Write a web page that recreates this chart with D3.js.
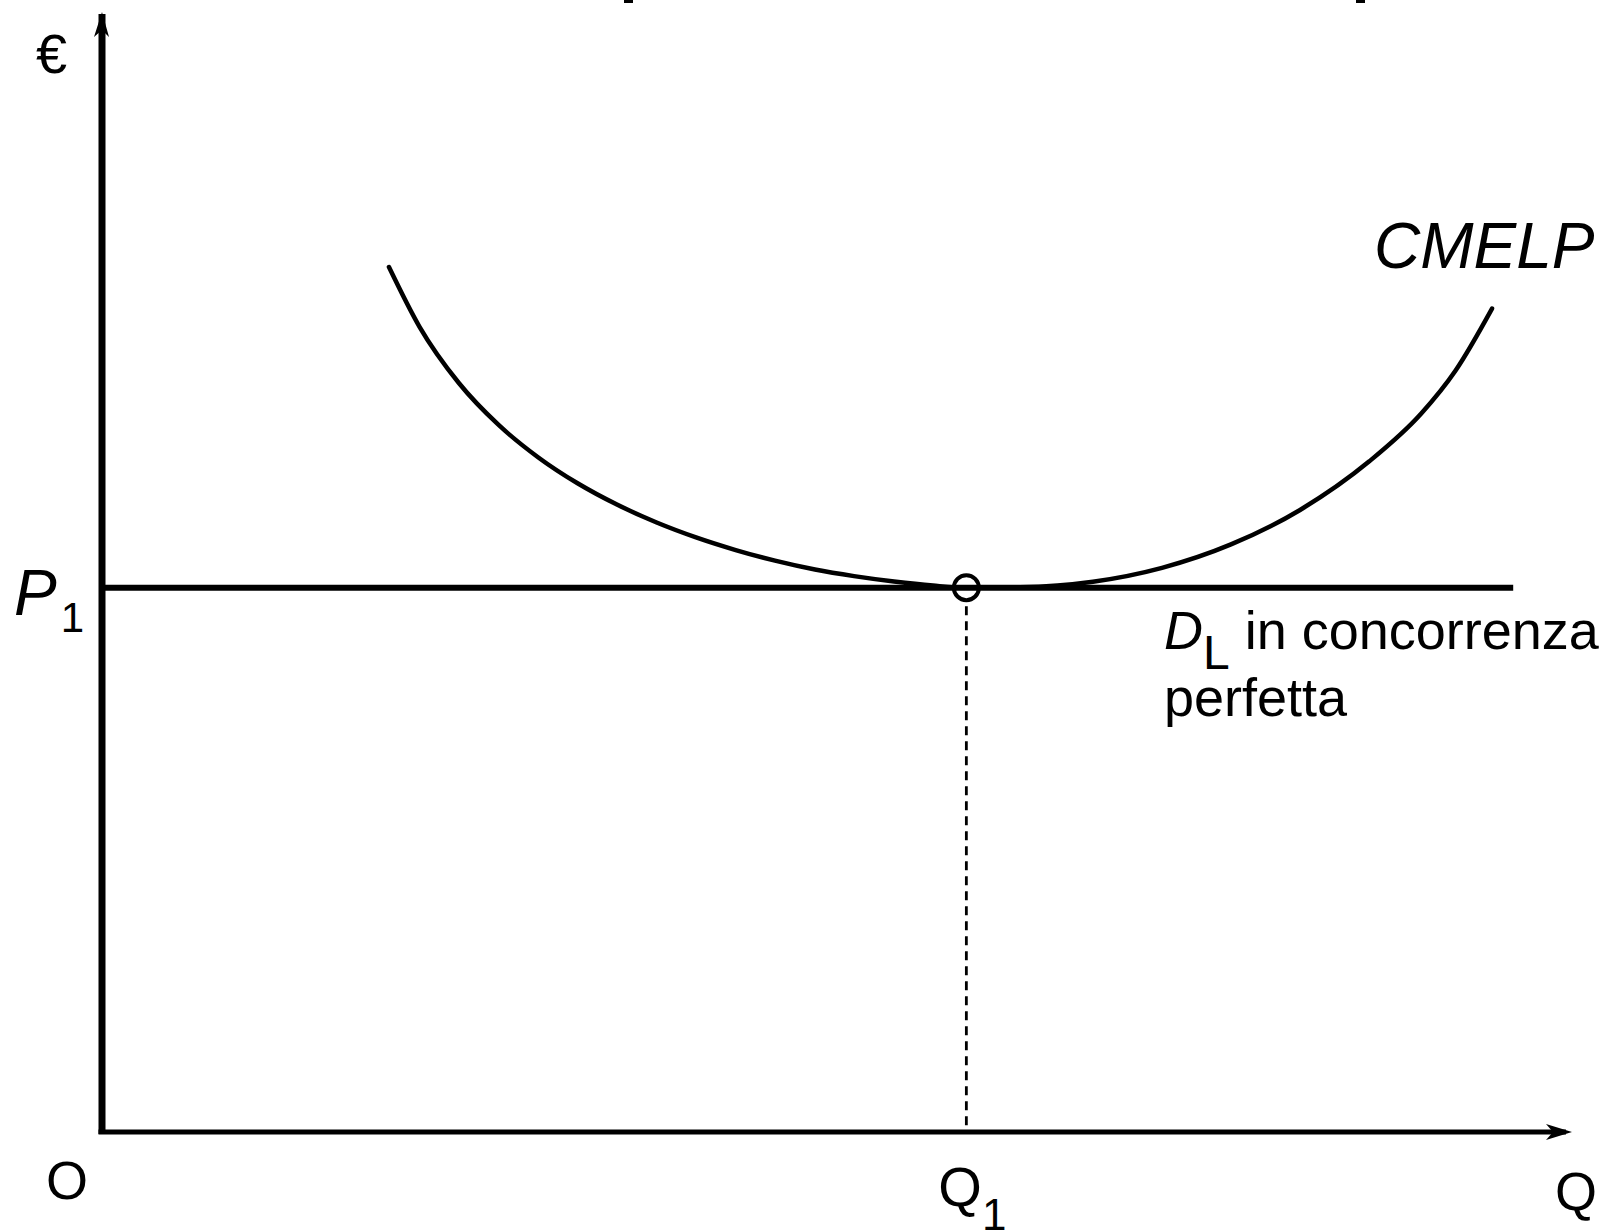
<!DOCTYPE html>
<html>
<head>
<meta charset="utf-8">
<script src="https://cdn.jsdelivr.net/npm/d3@7"></script>
<style>
  html, body { margin: 0; padding: 0; background: #fff; }
  svg { display: block; }
  text { font-family: "Liberation Sans", Arial, sans-serif; fill: #000; }
</style>
</head>
<body>
<svg id="chart"></svg>
<script>
// chart values (quantity and euro in 0..100 units)
var cmelpQ = [19.52, 21.60, 24.29, 26.98, 29.66, 32.35, 35.03, 37.73, 40.41, 43.11, 45.78,
              48.50, 51.16, 53.88, 56.53, 58.80, 62.45, 67.41, 72.11, 76.80, 81.50, 86.19,
              89.73, 92.07, 94.56];
var cmelpCost = [77.23, 71.89, 66.85, 63.13, 60.25, 57.92, 56.02, 54.42, 53.09, 51.96, 51.01,
                 50.22, 49.63, 49.15, 48.79, 48.60, 48.64, 49.13, 50.37, 52.46, 55.54, 59.86,
                 64.13, 67.97, 73.52];
var priceP1 = [48.6];
var quantityQ1 = [58.8];
var demandRange = [0, 96.0];

// svg constants
var width = 1606,
	height = 1231;

var svg = d3.select('#chart')
	.attr('width', width)
	.attr('height', height);

var x = d3.scaleLinear().domain([0, 100]).range([102, 1572]);
var y = d3.scaleLinear().domain([0, 100]).range([1132, 12]);

// bits of a cut-off title at the top edge
svg.append('rect').attr('x', 624).attr('y', 0).attr('width', 9).attr('height', 3).attr('fill', '#000');
svg.append('rect').attr('x', 1356).attr('y', 0).attr('width', 9).attr('height', 3).attr('fill', '#000');

/* --- axes --- */

// vertical axis with arrow
svg.append('line')
	.attr('x1', x(0)).attr('x2', x(0))
	.attr('y1', y(0) + 2).attr('y2', y(100) + 2)
	.attr('stroke', '#000')
	.attr('stroke-width', 7);
svg.append('path')
	.attr('d', 'M' + x(0) + ',' + y(100) +
		' L' + (x(0) + 7) + ',' + (y(100) + 25) +
		' L' + x(0) + ',' + (y(100) + 18) +
		' L' + (x(0) - 8) + ',' + (y(100) + 25) + ' Z')
	.attr('fill', '#000');

// horizontal axis with arrow
svg.append('line')
	.attr('x1', x(0) - 3.5).attr('x2', x(100) - 6)
	.attr('y1', y(0)).attr('y2', y(0))
	.attr('stroke', '#000')
	.attr('stroke-width', 5);
svg.append('path')
	.attr('d', 'M' + x(100) + ',' + y(0) +
		' L' + (x(100) - 26) + ',' + (y(0) - 8) +
		' L' + (x(100) - 19) + ',' + y(0) +
		' L' + (x(100) - 26) + ',' + (y(0) + 8) + ' Z')
	.attr('fill', '#000');

/* --- demand line in perfect competition --- */
svg.selectAll('.demand')
	.data(priceP1)
	.enter().append('line')
		.attr('class', 'demand')
		.attr('x1', x(demandRange[0]))
		.attr('x2', x(demandRange[1]))
		.attr('y1', function(d) { return y(d); })
		.attr('y2', function(d) { return y(d); })
		.attr('stroke', '#000')
		.attr('stroke-width', 6);

/* --- long run average cost curve --- */
var cmelpData = cmelpQ.map(function(q, i) {
	return { q: q, c: cmelpCost[i] };
});

var line = d3.line()
	.x(function(d) { return x(d.q); })
	.y(function(d) { return y(d.c); })
	.curve(d3.curveMonotoneX);

svg.append('path')
	.datum(cmelpData)
	.attr('d', line)
	.attr('fill', 'none')
	.attr('stroke', '#000')
	.attr('stroke-width', 4.5)
	.attr('stroke-linecap', 'round');

/* --- equilibrium point and dashed drop line --- */
var circleR = 12.5;

svg.selectAll('.drop')
	.data(quantityQ1)
	.enter().append('line')
		.attr('class', 'drop')
		.attr('x1', function(d) { return x(d); })
		.attr('x2', function(d) { return x(d); })
		.attr('y1', y(priceP1[0]) + circleR + 6)
		.attr('y2', y(0) - 3)
		.attr('stroke', '#000')
		.attr('stroke-width', 2.8)
		.attr('stroke-dasharray', '9,6');

svg.selectAll('.eq')
	.data(quantityQ1)
	.enter().append('circle')
		.attr('class', 'eq')
		.attr('cx', function(d) { return x(d); })
		.attr('cy', y(priceP1[0]))
		.attr('r', circleR)
		.attr('fill', 'none')
		.attr('stroke', '#000')
		.attr('stroke-width', 4);

/* --- labels --- */
svg.append('text')
	.attr('x', 36).attr('y', 73)
	.attr('font-size', 56)
	.text('€');

svg.append('text')
	.attr('x', 46).attr('y', 1199)
	.attr('font-size', 54)
	.text('O');

svg.append('text')
	.attr('x', 1555).attr('y', 1210)
	.attr('font-size', 54)
	.text('Q');

var q1Label = svg.append('text')
	.attr('x', x(quantityQ1[0]) - 28).attr('y', 1206)
	.attr('font-size', 56);
q1Label.append('tspan').text('Q');
q1Label.append('tspan').attr('font-size', 44).attr('dy', 24).text('1');

var p1Label = svg.append('text')
	.attr('x', 14).attr('y', y(priceP1[0]) + 27)
	.attr('font-size', 64);
p1Label.append('tspan').attr('font-style', 'italic').text('P');
p1Label.append('tspan').attr('font-size', 42).attr('dx', 4).attr('dy', 17).text('1');

svg.append('text')
	.attr('x', 1374).attr('y', 268)
	.attr('font-size', 64)
	.attr('font-style', 'italic')
	.text('CMELP');

var dLabel = svg.append('text')
	.attr('x', 1164).attr('y', y(priceP1[0]) + 61)
	.attr('font-size', 54);
dLabel.append('tspan').attr('font-style', 'italic').text('D');
dLabel.append('tspan').attr('font-size', 48).attr('dy', 20).attr('textLength', 20).text('L');
dLabel.append('tspan').attr('dy', -20).text(' in concorrenza');

svg.append('text')
	.attr('x', 1164).attr('y', y(priceP1[0]) + 128)
	.attr('font-size', 54)
	.text('perfetta');
</script>
</body>
</html>
